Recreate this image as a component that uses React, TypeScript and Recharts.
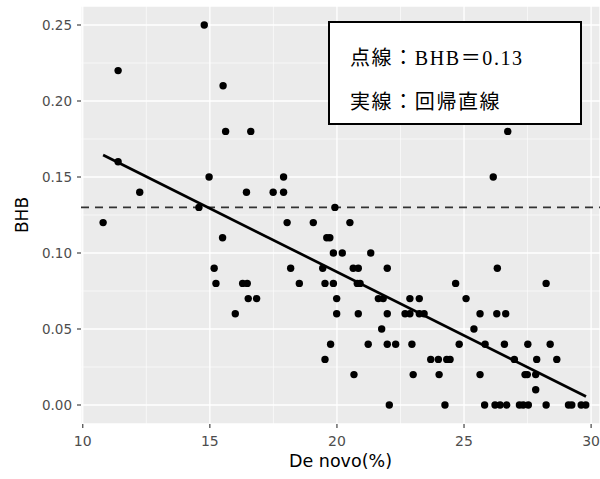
import {
  ScatterChart,
  Scatter,
  XAxis,
  YAxis,
  CartesianGrid,
  ReferenceLine,
} from 'recharts'

// De novo(%) と BHB の観測値（同じ順番）
const DE_NOVO = [
  14.78,
  11.39,
  15.52,
  15.62, 16.61, 26.72,
  11.39,
  14.97, 17.9, 26.15,
  12.24, 16.44, 17.49, 17.9,
  14.57, 19.92,
  10.8, 18.04, 19.07, 20.51,
  15.5, 19.6, 19.72,
  19.86, 20.21, 21.33,
  15.17, 18.18, 19.44, 20.64, 20.84, 21.98, 26.31,
  15.24, 16.29, 16.47, 18.52, 19.53, 19.86, 20.8, 20.91, 24.67, 28.23,
  16.51, 16.84, 19.99, 21.63, 21.82, 22.87, 23.24, 25.08,
  16.0, 19.99, 20.84, 21.98, 22.68, 22.87, 23.24, 23.43, 25.63, 26.29, 26.64,
  21.76, 25.39,
  19.75, 21.23, 21.98, 22.31, 22.95, 24.81, 25.83, 26.59, 27.51, 28.39,
  19.53, 23.69, 23.99, 24.32, 24.45, 26.98, 27.86, 28.65,
  20.67, 23.0, 24.02, 25.63, 27.4, 27.49, 27.82,
  27.82,
  22.06, 24.25, 25.81, 26.22, 26.42, 26.68, 27.18, 27.33, 27.53, 28.23, 29.11, 29.24, 29.61, 29.79,
]

const BHB = [
  0.25,
  0.22,
  0.21,
  0.18, 0.18, 0.18,
  0.16,
  0.15, 0.15, 0.15,
  0.14, 0.14, 0.14, 0.14,
  0.13, 0.13,
  0.12, 0.12, 0.12, 0.12,
  0.11, 0.11, 0.11,
  0.1, 0.1, 0.1,
  0.09, 0.09, 0.09, 0.09, 0.09, 0.09, 0.09,
  0.08, 0.08, 0.08, 0.08, 0.08, 0.08, 0.08, 0.08, 0.08, 0.08,
  0.07, 0.07, 0.07, 0.07, 0.07, 0.07, 0.07, 0.07,
  0.06, 0.06, 0.06, 0.06, 0.06, 0.06, 0.06, 0.06, 0.06, 0.06, 0.06,
  0.05, 0.05,
  0.04, 0.04, 0.04, 0.04, 0.04, 0.04, 0.04, 0.04, 0.04, 0.04,
  0.03, 0.03, 0.03, 0.03, 0.03, 0.03, 0.03, 0.03,
  0.02, 0.02, 0.02, 0.02, 0.02, 0.02, 0.02,
  0.01,
  0, 0, 0, 0, 0, 0, 0, 0, 0, 0, 0, 0, 0, 0,
]

// 回帰直線の両端
const REG_X = [10.8, 29.8]
const REG_Y = [0.1645, 0.0056]

const THRESHOLD = 0.13

const X_TICKS = [10, 15, 20, 25, 30]
const Y_TICKS = [0, 0.05, 0.1, 0.15, 0.2, 0.25]
const X_MINOR = [12.5, 17.5, 22.5, 27.5]
const Y_MINOR = [0.025, 0.075, 0.125, 0.175, 0.225]

const points = DE_NOVO.map((x, i) => ({ x, y: BHB[i] }))

const FONT = '"DejaVu Sans", sans-serif'

const yTickStyle = { fill: '#4d4d4d', fontSize: 13.5, fontFamily: FONT }
const xTickStyle = { fill: '#4d4d4d', fontSize: 14, fontFamily: FONT }

function Dot(props: any) {
  return <circle cx={props.cx} cy={props.cy} r={3.7} fill="#000" />
}

export default function App() {
  return (
    <div
      style={{
        position: 'absolute',
        top: 0,
        left: 0,
        width: 600,
        height: 479,
        background: '#fff',
      }}
    >
      <ScatterChart
        width={600}
        height={479}
        margin={{ top: 6, right: 0, bottom: 0, left: 0 }}
      >
        <CartesianGrid
          fill="#ebebeb"
          fillOpacity={1}
          stroke="#fff"
          strokeWidth={1.3}
        />
        {X_MINOR.map((v) => (
          <ReferenceLine key={`mx-${v}`} x={v} stroke="#fff" strokeWidth={0.6} />
        ))}
        {Y_MINOR.map((v) => (
          <ReferenceLine key={`my-${v}`} y={v} stroke="#fff" strokeWidth={0.6} />
        ))}
        <XAxis
          type="number"
          dataKey="x"
          domain={[9.93, 30.35]}
          ticks={X_TICKS}
          axisLine={false}
          tickSize={4}
          tickMargin={8}
          tickLine={{ stroke: '#333', strokeWidth: 1.1 }}
          tick={xTickStyle}
          height={55}
          label={{
            value: 'De novo(%)',
            position: 'insideBottom',
            offset: 12,
            fill: '#000',
            fontSize: 17.5,
            fontFamily: FONT,
          }}
        />
        <YAxis
          type="number"
          dataKey="y"
          domain={[-0.0125, 0.2625]}
          ticks={Y_TICKS}
          axisLine={false}
          tickSize={4}
          tickMargin={5}
          tickLine={{ stroke: '#333', strokeWidth: 1.1 }}
          tick={yTickStyle}
          tickFormatter={(v) => Number(v).toFixed(2)}
          width={81}
          label={{
            value: 'BHB',
            angle: -90,
            position: 'insideLeft',
            offset: 22,
            textAnchor: 'middle',
            fill: '#000',
            fontSize: 17,
            fontFamily: FONT,
          }}
        />
        <Scatter data={points} shape={<Dot />} isAnimationActive={false} />
        <ReferenceLine
          y={THRESHOLD}
          stroke="#333"
          strokeWidth={1.9}
          strokeDasharray="8 6"
        />
        <ReferenceLine
          segment={[
            { x: REG_X[0], y: REG_Y[0] },
            { x: REG_X[1], y: REG_Y[1] },
          ]}
          stroke="#000"
          strokeWidth={2.7}
        />
      </ScatterChart>

      <div
        style={{
          position: 'absolute',
          left: 328,
          top: 21,
          width: 250,
          height: 100,
          border: '2px solid #000',
          background: '#fff',
          fontFamily: '"Liberation Serif", "Noto Sans CJK JP", serif',
          fontSize: 20,
          letterSpacing: 1.6,
          color: '#000',
          boxSizing: 'content-box',
        }}
      >
        <div style={{ position: 'absolute', left: 20, top: 19, whiteSpace: 'nowrap' }}>
          点線：BHB＝0.13
        </div>
        <div style={{ position: 'absolute', left: 20, top: 63, whiteSpace: 'nowrap' }}>
          実線：回帰直線
        </div>
      </div>
    </div>
  )
}
